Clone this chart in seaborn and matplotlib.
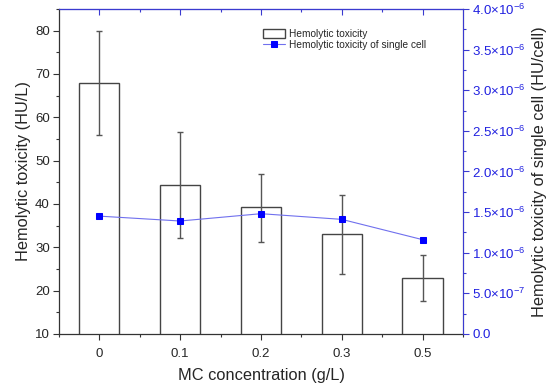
import numpy as np
import pandas as pd
import matplotlib
matplotlib.use("Agg")
import matplotlib.pyplot as plt
import seaborn as sns
from matplotlib.ticker import MultipleLocator, FixedLocator, FixedFormatter

# =============================
# DATA
# =============================
concentrations = ["0", "0.1", "0.2", "0.3", "0.5"]
hemolytic = [68.0, 44.3, 39.2, 33.0, 23.0]
err_low = [56.0, 32.2, 31.3, 23.8, 17.6]
err_high = [80.0, 56.5, 47.0, 42.1, 28.2]
single_cell = [1.45e-6, 1.39e-6, 1.48e-6, 1.41e-6, 1.16e-6]

right_ticks = [0, 5e-7, 1e-6, 1.5e-6, 2e-6, 2.5e-6, 3e-6, 3.5e-6, 4e-6]
right_labels = ["0.0", "5.0×10$^{-7}$", "1.0×10$^{-6}$", "1.5×10$^{-6}$", "2.0×10$^{-6}$",
                "2.5×10$^{-6}$", "3.0×10$^{-6}$", "3.5×10$^{-6}$", "4.0×10$^{-6}$"]

df = pd.DataFrame({"conc": concentrations, "hemo": hemolytic, "cell": single_cell})

sns.set_style("ticks")
plt.rcParams["font.family"] = ["Liberation Sans", "DejaVu Sans"]
plt.rcParams["mathtext.fontset"] = "custom"
plt.rcParams["mathtext.rm"] = "Liberation Sans"
plt.rcParams["mathtext.it"] = "Liberation Sans"
plt.rcParams["mathtext.default"] = "rm"

blue = "#3a3ad0"
dark = "#333333"

fig = plt.figure(figsize=(5.5, 3.91), dpi=100)
ax = fig.add_axes([0.107, 0.146, 0.735, 0.831])

# --------------------------------------
# bars + asymmetric error bars
# --------------------------------------
sns.barplot(data=df, x="conc", y="hemo", ax=ax, color="white", edgecolor="#444444",
            linewidth=1.0, width=0.5, errorbar=None, label="Hemolytic toxicity")
x = np.arange(len(concentrations))
yerr = [np.array(hemolytic) - np.array(err_low), np.array(err_high) - np.array(hemolytic)]
ax.errorbar(x, hemolytic, yerr=yerr, fmt="none", ecolor="#555555", elinewidth=1.0,
            capsize=2.3, capthick=1.0, zorder=3)

ax.set_xlim(-0.5, 4.5)
ax.set_ylim(10, 85)
ax.yaxis.set_major_locator(FixedLocator([10, 20, 30, 40, 50, 60, 70, 80]))
ax.yaxis.set_minor_locator(MultipleLocator(5))
ax.xaxis.set_minor_locator(FixedLocator([-0.5, 0.5, 1.5, 2.5, 3.5, 4.5]))
ax.set_xlabel("MC concentration (g/L)", fontsize=11.8, labelpad=6)
ax.set_ylabel("Hemolytic toxicity (HU/L)", fontsize=11.8, labelpad=3)
ax.tick_params(axis="both", which="major", labelsize=9.5, length=4, width=0.8,
               color=dark, direction="out", pad=2.5)
ax.tick_params(axis="both", which="minor", length=2.5, width=0.8, color=dark, direction="out")
ax.tick_params(axis="x", pad=6)
for s in ["left", "bottom"]:
    ax.spines[s].set_color(dark)
    ax.spines[s].set_linewidth(0.9)
ax.spines["top"].set_visible(True)
ax.spines["top"].set_color(blue)

# top ticks pointing in
top = ax.secondary_xaxis("top")
top.set_xticks(x)
top.xaxis.set_minor_locator(FixedLocator([0.5, 1.5, 2.5, 3.5]))
top.tick_params(which="major", direction="in", length=4, width=0.8, color=blue, labeltop=False)
top.tick_params(which="minor", direction="in", length=2.5, width=0.8, color=blue)
top.spines["top"].set_color(blue)

# --------------------------------------
# single cell line on right axis
# --------------------------------------
ax2 = ax.twinx()
sns.lineplot(x=x, y=single_cell, ax=ax2, color="#7070ee", linewidth=0.8, marker="s",
             markersize=4.5, markerfacecolor="#0000ff", markeredgecolor="#0000ff",
             label="Hemolytic toxicity of single cell")
ax2.set_ylim(0, 4e-6)
ax2.yaxis.set_major_locator(FixedLocator(right_ticks))
ax2.yaxis.set_major_formatter(FixedFormatter(right_labels))
ax2.yaxis.set_minor_locator(MultipleLocator(2.5e-7))
ax2.tick_params(axis="y", which="major", labelsize=9.5, length=4, width=0.8,
                color=blue, labelcolor="#2020e0", direction="out", pad=2.5)
ax2.tick_params(axis="y", which="minor", length=2.5, width=0.8, color=blue, direction="out")
ax2.set_ylabel("Hemolytic toxicity of single cell (HU/cell)", fontsize=11.8, labelpad=5)
ax2.spines["right"].set_visible(True)
ax2.spines["right"].set_color(blue)
ax2.spines["top"].set_color(blue)
ax2.spines["left"].set_visible(False)
ax2.spines["bottom"].set_visible(False)

h1, l1 = ax.get_legend_handles_labels()
h2, l2 = ax2.get_legend_handles_labels()
if ax2.get_legend():
    ax2.get_legend().remove()
if ax.get_legend():
    ax.get_legend().remove()
ax2.legend(h1 + h2, l1 + l2, loc="upper left", bbox_to_anchor=(0.465, 0.945),
           bbox_transform=fig.transFigure, frameon=False, fontsize=7.3,
           handlelength=2.2, handleheight=1.0, labelspacing=0.15, borderpad=0.2,
           handletextpad=0.4)

fig.savefig("out.png", dpi=100)
